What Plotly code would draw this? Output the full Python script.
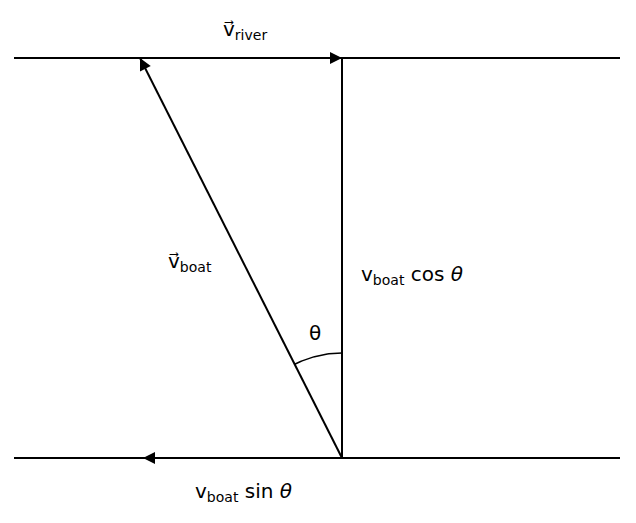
import plotly.graph_objects as go
import math

# Diagram geometry (pixel-like coordinate space, y downward)
bank_x = [14, 620]
top_y = 58
bottom_y = 458
origin = [342, 458]
boat_tip = [140, 58]
vertical_tip = [342, 58]
arc_radius = 105

fig = go.Figure()
line = dict(color="black", width=2)
fig.add_trace(go.Scatter(x=bank_x, y=[top_y, top_y], mode="lines", line=line))
fig.add_trace(go.Scatter(x=bank_x, y=[bottom_y, bottom_y], mode="lines", line=line))
fig.add_trace(go.Scatter(x=[origin[0], vertical_tip[0]], y=[origin[1], vertical_tip[1]], mode="lines", line=line))
fig.add_trace(go.Scatter(x=[origin[0], boat_tip[0]], y=[origin[1], boat_tip[1]], mode="lines", line=line))
ang_end = math.atan2(boat_tip[0] - origin[0], origin[1] - boat_tip[1])
n = 30
ax_ = [origin[0] + arc_radius * math.sin(ang_end * i / n) for i in range(n + 1)]
ay_ = [origin[1] - arc_radius * math.cos(ang_end * i / n) for i in range(n + 1)]
fig.add_trace(go.Scatter(x=ax_, y=ay_, mode="lines", line=dict(color="black", width=1.5)))

def head(x, y, fx, fy):
    fig.add_annotation(x=x, y=y, ax=fx, ay=fy, xref="x", yref="y", axref="x", ayref="y",
                       showarrow=True, arrowhead=2, arrowsize=1.6, arrowwidth=1.5,
                       arrowcolor="black", text=" ")

head(boat_tip[0], boat_tip[1], boat_tip[0] + 5, boat_tip[1] + 10)
head(vertical_tip[0], vertical_tip[1], vertical_tip[0], vertical_tip[1] + 10)
head(342, 230, 342, 240)
head(342, top_y, 330, top_y)
head(143, bottom_y, 155, bottom_y)

font = dict(family="DejaVu Sans", size=20, color="black")
def label(x, y, t):
    fig.add_annotation(x=x, y=y, xref="x", yref="y", text=t, showarrow=False, font=font)

label(245, 30, "v\u20d7<sub>river</sub>")
label(190, 262, "v\u20d7<sub>boat</sub>")
label(412, 275, "v<sub>boat</sub> cos <i>θ</i>")
label(315, 333, "θ")
label(243, 492, "v<sub>boat</sub> sin <i>θ</i>")

fig.update_layout(width=636, height=523, margin=dict(l=0, r=0, t=0, b=0),
                  plot_bgcolor="white", paper_bgcolor="white", showlegend=False,
                  xaxis=dict(range=[8, 644], visible=False, fixedrange=True),
                  yaxis=dict(range=[531, 8], visible=False, fixedrange=True))
fig.write_html("out.html")
